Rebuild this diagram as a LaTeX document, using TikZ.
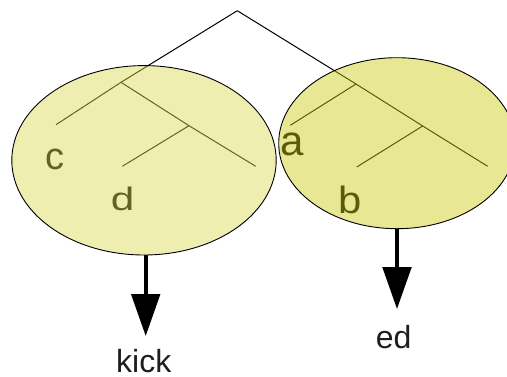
\documentclass[tikz,border=0pt]{standalone}
\usepackage{fontspec}
\setmainfont{Liberation Sans}
\usetikzlibrary{arrows.meta,shapes.geometric}
\definecolor{leftfill}{RGB}{218,218,80}
\definecolor{rightfill}{RGB}{204,202,18}
\definecolor{labelink}{RGB}{30,30,30}
\tikzset{
  branch/.style={line width=1pt,black},
  leaf/.style={anchor=base,inner sep=0pt,black},
  bubble/.style={ellipse,draw=black,line width=0.9pt,fill opacity=0.45,inner sep=0pt},
  morph/.style={line width=3.7pt,-{Triangle[length=42pt,width=28.5pt]}},
  gloss/.style={anchor=base,inner sep=0pt,text=labelink,font=\fontsize{32}{36}\selectfont}
}
\begin{document}
\begin{tikzpicture}[x=1pt,y=-1pt]
\useasboundingbox (0,0) rectangle (507,376);
% tree points
\coordinate (root) at (237.3,10.7);
\coordinate (n1) at (121,82.3);
\coordinate (cEnd) at (56,124.7);
\coordinate (n2) at (189,125.7);
\coordinate (dEnd) at (122.3,166.3);
\coordinate (lEnd) at (255.7,166.3);
\coordinate (n3) at (356,84);
\coordinate (aEnd) at (290.3,125.3);
\coordinate (n4) at (422.7,126);
\coordinate (bEnd) at (356.7,167);
\coordinate (rEnd) at (487.7,166.3);
% branches
\draw[branch] (root) -- (n1) -- (cEnd);
\draw[branch] (n1) -- (n2) -- (lEnd);
\draw[branch] (n2) -- (dEnd);
\draw[branch] (root) -- (n3) -- (n4) -- (rEnd);
\draw[branch] (n3) -- (aEnd);
\draw[branch] (n4) -- (bEnd);
% leaf letters
\node[leaf,font=\fontsize{38}{42}\selectfont] (c) at (54.8,169.5) {c};
\node[leaf,font=\fontsize{32.5}{36}\selectfont] (d) at (122.7,210.8) {\scalebox{1.3}[1]{d}};
\node[leaf,font=\fontsize{42}{46}\selectfont] (a) at (292.5,155.5) {a};
\node[leaf,font=\fontsize{38}{42}\selectfont] (b) at (350.3,213) {\scalebox{1.1}[1]{b}};
% translucent groupings
\node[bubble,fill=leftfill,minimum width=264.4pt,minimum height=189.4pt] (L) at (144,160.3) {};
\node[bubble,fill=rightfill,minimum width=236.6pt,minimum height=171pt] (R) at (397,143.2) {};
% outputs
\coordinate (kickTip) at (145.7,336);
\coordinate (edTip) at (397,309);
\draw[morph] (L.south -| kickTip) -- (kickTip);
\draw[morph] (R.south) -- (edTip);
\node[gloss] (kick) at (143.8,372) {kick};
\node[gloss] (ed) at (393.7,348.5) {ed};
\end{tikzpicture}
\end{document}
